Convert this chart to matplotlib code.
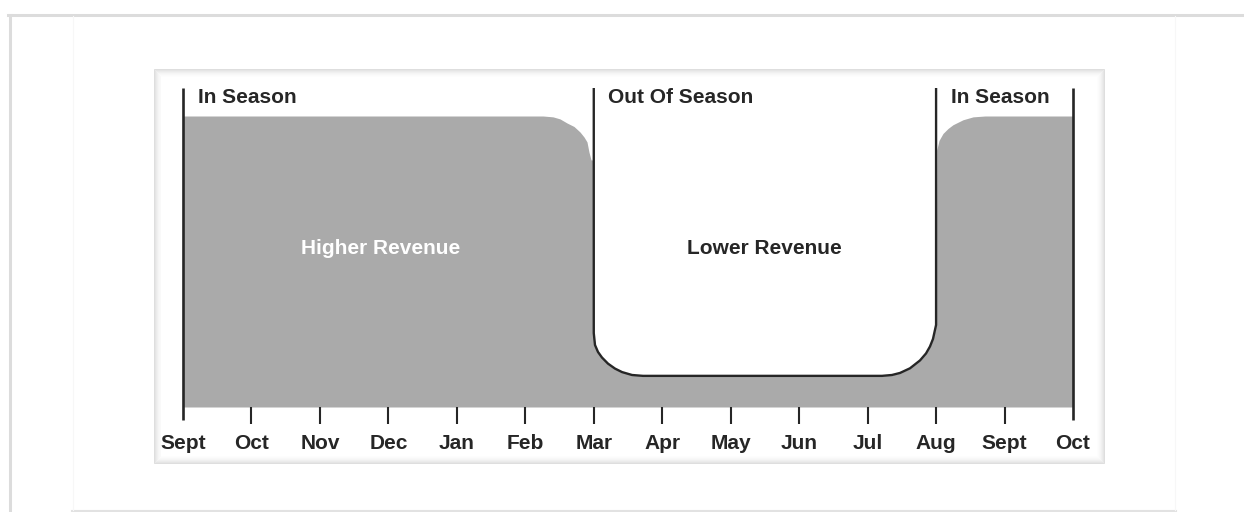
import matplotlib.pyplot as plt
from matplotlib.patches import Rectangle
from matplotlib.lines import Line2D

# ----------------------------- data -----------------------------
months = ["Sept", "Oct", "Nov", "Dec", "Jan", "Feb", "Mar",
          "Apr", "May", "Jun", "Jul", "Aug", "Sept", "Oct"]
season_edges = [0, 6, 11, 13]                 # Sept, Mar, Aug, Oct
season_labels = ["In Season", "Out Of Season", "In Season"]

# revenue level (1 = peak), x in months from Sept
high1_x = [0, 5.26, 5.405, 5.507, 5.609, 5.711, 5.799, 5.857, 5.901, 5.930,
           5.960, 5.985]
high1_v = [1.0, 1.0, 0.997, 0.990, 0.976, 0.964, 0.945, 0.928, 0.911, 0.876,
           0.849, 0.849]
low_x = [6.0, 6.018, 6.062, 6.120, 6.208, 6.310, 6.413, 6.559, 6.719,
         10.210, 10.356, 10.473, 10.619, 10.765, 10.853, 10.911, 10.955, 11.0]
low_v = [0.254, 0.213, 0.189, 0.170, 0.149, 0.132, 0.120, 0.110, 0.107,
         0.107, 0.110, 0.117, 0.133, 0.160, 0.184, 0.208, 0.234, 0.282]
high2_x = [11.01, 11.043, 11.101, 11.174, 11.247, 11.393, 11.540, 11.715, 13.0]
high2_v = [0.883, 0.916, 0.940, 0.957, 0.970, 0.987, 0.997, 1.0, 1.0]

region_text = ["Higher Revenue", "Lower Revenue"]
region_x = [2.88, 8.49]
region_v = 0.546

# ----------------------------- style -----------------------------
W_PX, H_PX = 1244, 512
INK = "#262626"
GREY = "#aaaaaa"
YTOP = 319 / 291                              # axes top in revenue units
plt.rcParams["font.family"] = ["Liberation Sans", "DejaVu Sans"]
plt.rcParams["font.weight"] = "bold"

fig = plt.figure(figsize=(W_PX / 100, H_PX / 100), dpi=100)
fig.patch.set_facecolor("white")


def px_rect(x0, y0, x1, y1, **kw):
    r = Rectangle((x0 / W_PX, 1 - y1 / H_PX), (x1 - x0) / W_PX, (y1 - y0) / H_PX,
                  transform=fig.transFigure, zorder=-5, **kw)
    fig.add_artist(r)


def px_line(xs, ys, **kw):
    fig.add_artist(Line2D([x / W_PX for x in xs], [1 - y / H_PX for y in ys],
                          transform=fig.transFigure, zorder=-4, **kw))


# page frame
px_line([8, W_PX], [15, 15], color="#dcdcdc", lw=2.2)
px_line([9.5, 9.5], [15, H_PX], color="#dcdcdc", lw=2.2)
px_line([72, 1176], [510.5, 510.5], color="#e2e2e2", lw=1.5)
px_line([72.5, 72.5], [16, 510], color="#f7f7f7", lw=0.8)
px_line([1174.5, 1174.5], [16, 510], color="#f7f7f7", lw=0.8)

# card with soft inner shadow
px_rect(153, 68, 1104, 463, facecolor="white", edgecolor="none")
for i in range(9):
    a = 0.13 * (1 - i / 9) ** 2
    px_rect(153 + i + 0.5, 68 + i + 0.5, 1104 - i - 0.5, 463 - i - 0.5,
            facecolor="none", edgecolor=(0, 0, 0, a), lw=0.72)

# ----------------------------- chart -----------------------------
ax = fig.add_axes([183 / W_PX, (H_PX - 407) / H_PX,
                   (1073 - 183) / W_PX, (407 - 88) / H_PX])
ax.set_xlim(0, 13)
ax.set_ylim(0, YTOP)
ax.patch.set_alpha(0)
for s in ax.spines.values():
    s.set_visible(False)

# one continuous revenue area so no seams show between the seasons
ax.fill_between(high1_x + low_x + high2_x, 0, high1_v + low_v + high2_v,
                color=GREY, lw=0)

# out-of-season outline, running up to the top at Mar and Aug
ax.plot([season_edges[1]] + low_x + [season_edges[2]],
        [YTOP] + low_v + [YTOP], color=INK, lw=1.7, solid_joinstyle="round")
ax.vlines([season_edges[0], season_edges[3]], -13 / 291, YTOP,
          color=INK, lw=1.9, clip_on=False)

for edge, lab in zip(season_edges[:3], season_labels):
    ax.annotate(lab, xy=(edge, 1.046), xytext=(10.5, 0), textcoords="offset points",
                fontsize=15, color=INK, ha="left", va="baseline")

ax.text(region_x[0], region_v, region_text[0], color="white", fontsize=15,
        ha="center", va="center")
ax.text(region_x[1], region_v, region_text[1], color=INK, fontsize=15,
        ha="center", va="center")

ax.set_yticks([])
ax.set_xticks(range(len(months)), months)
ax.tick_params(axis="x", length=12.2, width=1.5, color=INK, pad=7.5,
               labelsize=15, labelcolor=INK)
ticks = ax.xaxis.get_major_ticks()
ticks[0].tick1line.set_visible(False)
ticks[-1].tick1line.set_visible(False)

fig.savefig("out.png", dpi=100)
